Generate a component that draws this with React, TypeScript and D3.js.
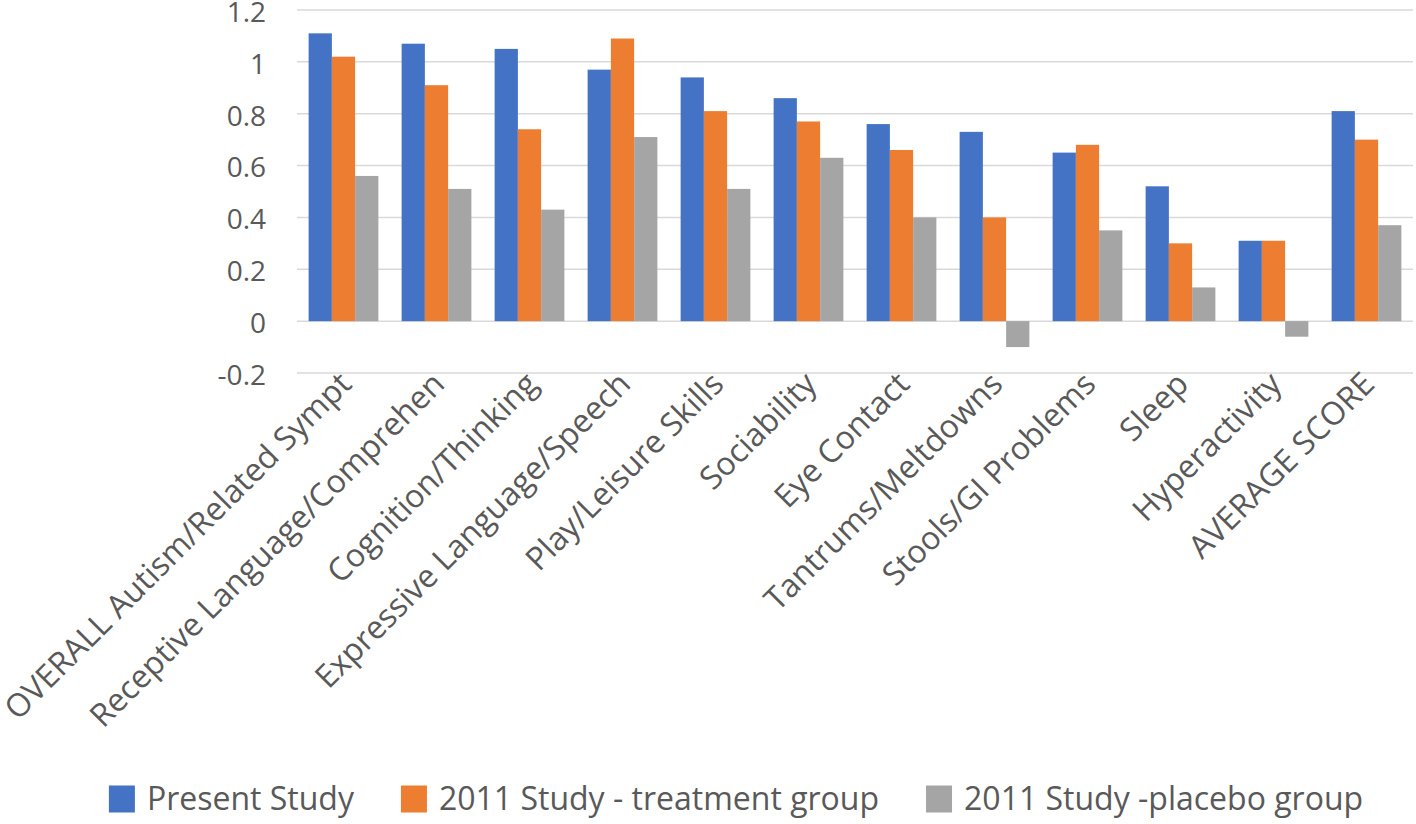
import React, { useEffect, useRef } from 'react';
import * as d3 from 'd3';

const categories = [
  'OVERALL Autism/Related Sympt',
  'Receptive Language/Comprehen',
  'Cognition/Thinking',
  'Expressive Language/Speech',
  'Play/Leisure Skills',
  'Sociability',
  'Eye Contact',
  'Tantrums/Meltdowns',
  'Stools/GI Problems',
  'Sleep',
  'Hyperactivity',
  'AVERAGE SCORE',
];

const seriesNames = ['Present Study', '2011 Study - treatment group', '2011 Study -placebo group'];
const seriesColors = ['#4472C4', '#ED7D31', '#A5A5A5'];

const presentStudy = [1.11, 1.07, 1.05, 0.97, 0.94, 0.86, 0.76, 0.73, 0.65, 0.52, 0.31, 0.81];
const treatment2011 = [1.02, 0.91, 0.74, 1.09, 0.81, 0.77, 0.66, 0.40, 0.68, 0.30, 0.31, 0.70];
const placebo2011 = [0.56, 0.51, 0.43, 0.71, 0.51, 0.63, 0.40, -0.10, 0.35, 0.13, -0.06, 0.37];

const yTicks = [-0.2, 0, 0.2, 0.4, 0.6, 0.8, 1, 1.2];
const yTickLabels = ['-0.2', '0', '0.2', '0.4', '0.6', '0.8', '1', '1.2'];

const W = 1416;
const H = 824;
const FONT = '"Open Sans", sans-serif';
const TEXT = '#595959';

export default function App() {
  const ref = useRef<SVGSVGElement>(null);

  useEffect(() => {
    const svg = d3.select(ref.current);
    svg.selectAll('*').remove();

    const allSeries = [presentStudy, treatment2011, placebo2011];

    const x = d3.scaleBand<string>()
      .domain(categories)
      .range([297, 1413])
      .paddingInner(0.25)
      .paddingOuter(0.125);

    const xs = d3.scaleBand<number>()
      .domain([0, 1, 2])
      .range([0, x.bandwidth()])
      .padding(0);

    const y = d3.scaleLinear().domain([-0.2, 1.2]).range([373, 10]);

    // gridlines
    svg.append('g')
      .selectAll('line')
      .data(yTicks)
      .enter()
      .append('line')
      .attr('x1', 297)
      .attr('x2', 1413)
      .attr('y1', d => y(d))
      .attr('y2', d => y(d))
      .attr('stroke', '#D9D9D9')
      .attr('stroke-width', 1.5);

    // y labels
    svg.append('g')
      .selectAll('text')
      .data(yTicks)
      .enter()
      .append('text')
      .attr('x', 266)
      .attr('y', d => y(d) + 2)
      .attr('dy', '0.35em')
      .attr('text-anchor', 'end')
      .attr('font-family', FONT)
      .attr('font-size', 28)
      .attr('fill', TEXT)
      .text((d, i) => yTickLabels[i]);

    // bars
    allSeries.forEach((vals, si) => {
      svg.append('g')
        .selectAll('rect')
        .data(vals)
        .enter()
        .append('rect')
        .attr('x', (d, i) => (x(categories[i]) as number) + (xs(si) as number))
        .attr('width', xs.bandwidth())
        .attr('y', d => y(Math.max(0, d)))
        .attr('height', d => Math.abs(y(d) - y(0)))
        .attr('fill', seriesColors[si]);
    });

    // category labels
    svg.append('g')
      .selectAll('text')
      .data(categories)
      .enter()
      .append('text')
      .attr('transform', d => `translate(${(x(d) as number) + x.bandwidth() / 2 + 2},378) rotate(-45)`)
      .attr('dy', '0.35em')
      .attr('text-anchor', 'end')
      .attr('font-family', FONT)
      .attr('font-size', 32)
      .attr('fill', TEXT)
      .text(d => d);

    // legend
    const legend = svg.append('g');
    const items = legend.selectAll('g')
      .data(seriesNames)
      .enter()
      .append('g');
    items.append('rect')
      .attr('width', 26)
      .attr('height', 27)
      .attr('y', -13.5)
      .attr('fill', (d, i) => seriesColors[i]);
    items.append('text')
      .attr('x', 38)
      .attr('dy', '0.35em')
      .attr('font-family', FONT)
      .attr('font-size', 32)
      .attr('fill', TEXT)
      .text(d => d);

    const widths: number[] = [];
    items.each(function () {
      const t = d3.select(this).select('text').node() as SVGTextElement;
      widths.push(38 + t.getComputedTextLength());
    });
    const gap = 47;
    const total = d3.sum(widths) + gap * (widths.length - 1);
    let cur = 736 - total / 2;
    items.attr('transform', (d, i) => {
      const tx = cur;
      cur += widths[i] + gap;
      return `translate(${tx},799)`;
    });
  }, []);

  return (
    <svg
      ref={ref}
      width={W}
      height={H}
      style={{ position: 'absolute', left: 0, top: 0, background: '#fff' }}
    />
  );
}
